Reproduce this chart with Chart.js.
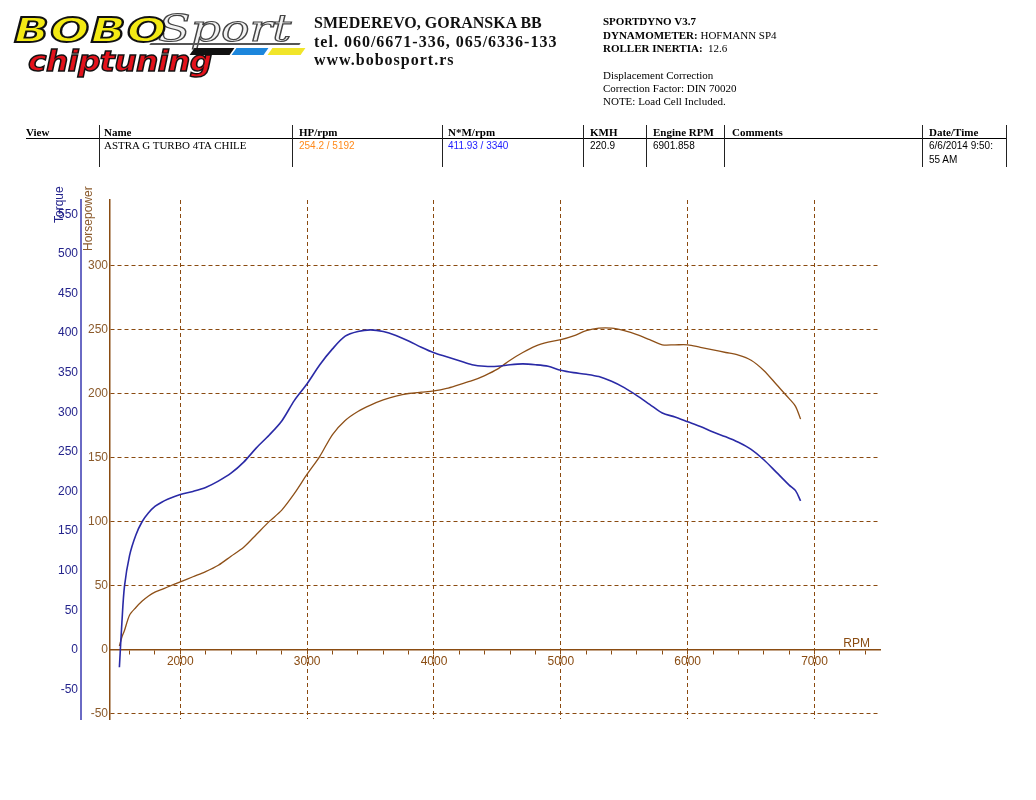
<!DOCTYPE html>
<html>
<head>
<meta charset="utf-8">
<script src="https://cdn.jsdelivr.net/npm/chart.js@4.4.1/dist/chart.umd.min.js"></script>
<style>
  body { margin: 0; background: #fff; }
  #page { position: relative; width: 1036px; height: 800px; overflow: hidden; }
  #page canvas { position: absolute; left: 0; top: 0; }
  .t { position: absolute; white-space: pre; line-height: 1; }
  .serif { font-family: 'Liberation Serif', 'Times New Roman', serif; font-size: 11px; color: #000; }
  .sans { font-family: 'Liberation Sans', Arial, sans-serif; font-size: 10px; color: #000; }
  .b { font-weight: bold; }
  .head { font-family: 'Liberation Serif', serif; font-weight: bold; font-size: 16px; color: #111; }
  .vl { position: absolute; top: 125px; height: 42px; width: 1px; background: #222; }
  /* logo */
  .bobo { position: absolute; left: 14px; top: 10px; font-family: 'DejaVu Sans', sans-serif; font-weight: bold; font-style: italic;
          font-size: 34px; color: #f3ea14; -webkit-text-stroke: 1.8px #111; letter-spacing: 1px; transform: scaleX(1.35); transform-origin: left top; }
  .sport { position: absolute; left: 158px; top: 6px; font-family: 'DejaVu Serif', serif; font-style: italic; font-size: 38px;
           color: #f2f2f2; -webkit-text-stroke: 1.2px #444; transform: scaleX(1.25); transform-origin: left top; }
  .chip { position: absolute; left: 28px; top: 45px; font-family: 'DejaVu Sans', sans-serif; font-weight: bold; font-style: italic;
          font-size: 28px; color: #e3121b; -webkit-text-stroke: 1.4px #111; letter-spacing: -0.5px; transform: scaleX(1.12); transform-origin: left top; }
  .stripe { position: absolute; top: 48px; height: 7px; transform: skewX(-35deg); }
</style>
</head>
<body>
<div id="page">
  <canvas id="dyno" width="1036" height="800"></canvas>

  <div class="sport">Sport</div>
  <div class="stripe" style="left:150px;top:43px;width:150px;height:2px;background:#555;"></div>
  <div class="stripe" style="left:192px;width:40px;background:#111;"></div>
  <div class="stripe" style="left:234px;width:32px;background:#1c86dc;"></div>
  <div class="stripe" style="left:270px;width:33px;background:#f1e52a;"></div>
  <div class="bobo">BOBO</div>
  <div class="chip">chiptuning</div>

  <div class="t head" style="left:314px;top:15px;">SMEDEREVO, GORANSKA BB</div>
  <div class="t head" style="left:314px;top:34px;letter-spacing:1px;">tel. 060/6671-336, 065/6336-133</div>
  <div class="t head" style="left:314px;top:52px;letter-spacing:1px;">www.bobosport.rs</div>

  <div class="t serif b" style="left:603px;top:16px;">SPORTDYNO V3.7</div>
  <div class="t serif" style="left:603px;top:30px;"><b>DYNAMOMETER:</b> HOFMANN SP4</div>
  <div class="t serif" style="left:603px;top:43px;"><b>ROLLER INERTIA:</b>  12.6</div>
  <div class="t serif" style="left:603px;top:70px;">Displacement Correction</div>
  <div class="t serif" style="left:603px;top:83px;">Correction Factor: DIN 70020</div>
  <div class="t serif" style="left:603px;top:96px;">NOTE: Load Cell Included.</div>

  <div style="position:absolute;left:26px;top:138px;width:981px;height:1px;background:#000;"></div>
  <div class="vl" style="left:99px;"></div>
  <div class="vl" style="left:292px;"></div>
  <div class="vl" style="left:442px;"></div>
  <div class="vl" style="left:583px;"></div>
  <div class="vl" style="left:646px;"></div>
  <div class="vl" style="left:724px;"></div>
  <div class="vl" style="left:922px;"></div>
  <div class="vl" style="left:1006px;"></div>

  <div class="t serif b" style="left:26px;top:127px;">View</div>
  <div class="t serif b" style="left:104px;top:127px;">Name</div>
  <div class="t serif b" style="left:299px;top:127px;">HP/rpm</div>
  <div class="t serif b" style="left:448px;top:127px;">N*M/rpm</div>
  <div class="t serif b" style="left:590px;top:127px;">KMH</div>
  <div class="t serif b" style="left:653px;top:127px;">Engine RPM</div>
  <div class="t serif b" style="left:732px;top:127px;">Comments</div>
  <div class="t serif b" style="left:929px;top:127px;">Date/Time</div>

  <div class="t serif" style="left:104px;top:140px;">ASTRA G TURBO 4TA CHILE</div>
  <div class="t sans" style="left:299px;top:140.5px;color:#ff8a1c;">254.2 / 5192</div>
  <div class="t sans" style="left:448px;top:140.5px;color:#1c1cff;">411.93 / 3340</div>
  <div class="t sans" style="left:590px;top:140.5px;">220.9</div>
  <div class="t sans" style="left:653px;top:140.5px;">6901.858</div>
  <div class="t sans" style="left:929px;top:140.5px;">6/6/2014 9:50:</div>
  <div class="t sans" style="left:929px;top:154.5px;">55 AM</div>
</div>

<script>
// engine speed of each sample (rpm)
const rpm = [1520, 1540, 1560, 1600, 1650, 1700, 1750, 1800, 1850, 1900,
  2000, 2100, 2200, 2300, 2400, 2500, 2600, 2700, 2800, 2900,
  3000, 3100, 3200, 3300, 3400, 3500, 3600, 3700, 3800, 3900,
  4000, 4100, 4200, 4300, 4400, 4500, 4600, 4700, 4800, 4900,
  5000, 5100, 5200, 5300, 5400, 5500, 5600, 5700, 5800, 5900,
  6000, 6100, 6200, 6300, 6400, 6500, 6600, 6700, 6800, 6850, 6890];

// torque, N*m (blue)
const torqueNm = [-22, 35, 80, 119, 145, 162, 173, 181, 186, 190,
  196, 200, 205, 213, 223, 237, 255, 271, 289, 315,
  336, 360, 380, 396, 402, 404, 402, 397, 390, 382,
  375, 370, 365, 360, 358, 358, 360, 361, 360, 358,
  353, 350, 348, 345, 339, 331, 321, 310, 299, 294,
  288, 282, 275, 269, 262, 253, 240, 224, 208, 201, 188];

// power, HP (brown)
const powerHp = [3, 10, 15, 27, 33, 38, 42, 45, 47, 49,
  53, 57, 61, 66, 73, 80, 90, 100, 109, 122,
  137, 151, 168, 179, 186, 191, 195, 198, 200, 201,
  202, 204, 207, 210, 214, 219, 226, 232, 237, 240,
  242, 245, 249, 251, 251, 249, 246, 242, 238, 238,
  238, 236, 234, 232, 230, 226, 218, 207, 196, 190, 180];

const hpTicks = [-50, 0, 50, 100, 150, 200, 250, 300];
const torqueTicks = [-50, 0, 50, 100, 150, 200, 250, 300, 350, 400, 450, 500, 550];
const rpmLabels = [2000, 3000, 4000, 5000, 6000, 7000];
const rpmMinorStep = 200;

const brown = '#8a4c12';
const gridBrown = '#8a4a10';
const navy = '#24248c';
const clear = 'rgba(0,0,0,0)';

Chart.defaults.font.family = "'Liberation Sans', Arial, sans-serif";

const axisTitles = {
    id: 'axisTitles',
    afterDraw(chart) {
        const ctx = chart.ctx;
        ctx.save();
        ctx.font = "12px 'Liberation Sans', Arial, sans-serif";
        ctx.textBaseline = 'middle';
        ctx.textAlign = 'left';
        // rotated titles, reading bottom to top
        ctx.save();
        ctx.translate(60, 223);
        ctx.rotate(-Math.PI / 2);
        ctx.fillStyle = navy;
        ctx.fillText('Torque', 0, 0);
        ctx.restore();
        ctx.save();
        ctx.translate(89, 251);
        ctx.rotate(-Math.PI / 2);
        ctx.fillStyle = '#8b5a2b';
        ctx.fillText('Horsepower', 0, 0);
        ctx.restore();
        ctx.fillStyle = brown;
        ctx.textAlign = 'right';
        ctx.textBaseline = 'alphabetic';
        ctx.fillText('RPM', 870, 647);
        ctx.restore();
    }
};

const ctx_dyno = document.getElementById('dyno').getContext('2d');
const dynoChart = new Chart(ctx_dyno, {
    type: 'line',
    data: {
        datasets: [{
            label: 'Torque',
            data: rpm.map((r, i) => ({ x: r, y: torqueNm[i] })),
            yAxisID: 'torque',
            borderColor: '#2a2aa6',
            borderWidth: 1.6,
            pointRadius: 0,
            tension: 0.3,
            fill: false
        }, {
            label: 'Horsepower',
            data: rpm.map((r, i) => ({ x: r, y: powerHp[i] })),
            yAxisID: 'y',
            borderColor: '#8e5018',
            borderWidth: 1.3,
            pointRadius: 0,
            tension: 0.3,
            fill: false
        }]
    },
    options: {
        responsive: false,
        maintainAspectRatio: false,
        animation: false,
        layout: { padding: { left: 30, top: 200, right: 156, bottom: 81 } },
        scales: {
            x: {
                type: 'linear',
                min: 1446,
                max: 7516,
                position: { y: 0 },
                afterBuildTicks: scale => {
                    const t = [];
                    for (let v = 1600; v <= 7400; v += rpmMinorStep) t.push({ value: v });
                    scale.ticks = t;
                },
                grid: {
                    color: c => (c.tick && rpmLabels.includes(c.tick.value)) ? gridBrown : clear,
                    tickColor: brown,
                    tickLength: 4,
                    lineWidth: 1
                },
                border: { color: brown, width: 1.5, dash: [4, 3] },
                ticks: {
                    autoSkip: false,
                    maxRotation: 0,
                    color: brown,
                    padding: 1,
                    font: { size: 12 },
                    callback: v => rpmLabels.includes(v) ? String(v) : ''
                }
            },
            y: {
                position: 'left',
                min: -54,
                max: 351,
                afterBuildTicks: scale => { scale.ticks = hpTicks.map(v => ({ value: v })); },
                afterFit: scale => { scale.width = 29; },
                grid: {
                    color: c => (c.tick && c.tick.value === 0) ? clear : gridBrown,
                    drawTicks: false,
                    lineWidth: 1
                },
                border: { color: brown, width: 1.5, dash: [4, 3] },
                ticks: { color: '#8b5a2b', padding: 2, font: { size: 12 } }
            },
            torque: {
                position: 'left',
                min: -87.4,
                max: 568,
                afterBuildTicks: scale => { scale.ticks = torqueTicks.map(v => ({ value: v })); },
                afterFit: scale => { scale.width = 51; },
                grid: { display: false, drawTicks: false },
                border: { color: '#6a6ac4', width: 2 },
                ticks: { color: navy, padding: 3, font: { size: 12 } }
            }
        },
        plugins: {
            legend: { display: false },
            tooltip: { enabled: false }
        }
    },
    plugins: [axisTitles]
});
</script>
</body>
</html>
